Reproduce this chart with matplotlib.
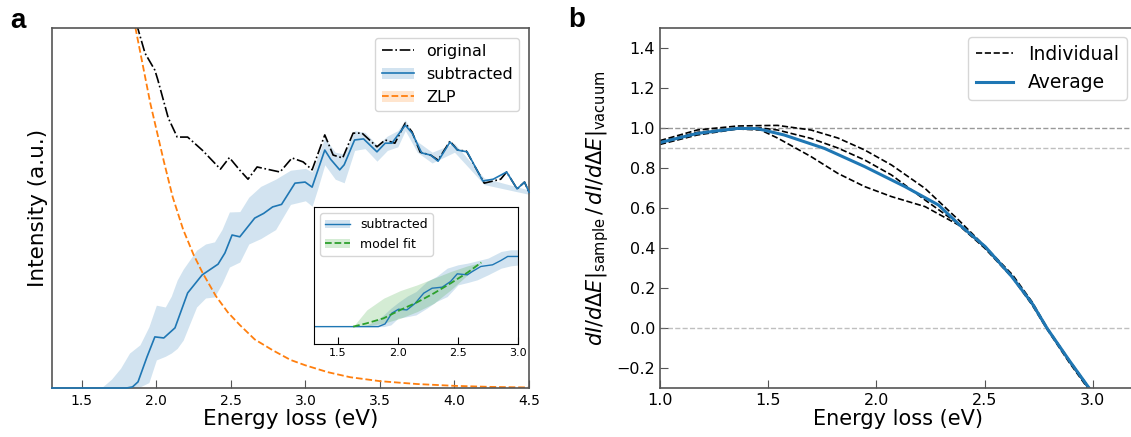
import numpy as np
import matplotlib
matplotlib.use("Agg")
import matplotlib.pyplot as plt
from matplotlib.patches import Patch
from matplotlib.lines import Line2D

# ---- panel a: spectra (arbitrary units, 0..100 = axis height) ----
orig_x = [1.85, 1.875, 1.924, 1.99, 2.01, 2.08, 2.14, 2.21, 2.31, 2.43, 2.49, 2.56,
          2.615, 2.676, 2.74, 2.83, 2.91, 2.985, 3.045, 3.13, 3.186, 3.25, 3.32, 3.38,
          3.48, 3.535, 3.6, 3.67, 3.716, 3.77, 3.84, 3.89, 3.97, 4.02, 4.08, 4.2,
          4.31, 4.35, 4.42, 4.47, 4.5]
orig_y = [106, 100, 93, 88.3, 85.6, 75, 69.7, 69.7, 66, 60.8, 64, 60.5,
          58, 61.4, 60.8, 60, 63.9, 62.8, 60.6, 70.3, 64.7, 63.9, 70.8, 70.8,
          67, 68.9, 68, 73.6, 71.1, 65.5, 64.7, 63.3, 68.6, 66.1, 65.8, 56.9,
          58, 60, 55.3, 57.2, 54.4]

sub_x = [1.30, 1.80, 1.84, 1.877, 1.937, 1.99, 2.05, 2.125, 2.21, 2.307, 2.414, 2.46,
         2.508, 2.56, 2.66, 2.72, 2.78, 2.84, 2.93, 2.998, 3.045, 3.13, 3.17, 3.23,
         3.26, 3.33, 3.39, 3.48, 3.535, 3.58, 3.67, 3.716, 3.78, 3.84, 3.89, 3.97,
         4.02, 4.085, 4.19, 4.26, 4.35, 4.42, 4.47, 4.5]
sub_y = [0, 0, 0.3, 1.7, 8.6, 14.2, 13.9, 16.7, 26.4, 31.4, 34.4, 37.5,
         42.5, 42, 47.2, 48.5, 50.3, 51, 56.9, 57.2, 55.8, 66.1, 63.5, 60.6,
         62, 68.9, 69.2, 65.6, 68, 68, 73, 70.8, 65.3, 64.7, 63, 68.3,
         66.1, 65.6, 57.5, 58, 60, 55.3, 57.2, 54.4]

band_x = [1.30, 1.63, 1.70, 1.76, 1.82, 1.89, 1.95, 2.00, 2.06, 2.10, 2.14, 2.18,
          2.27, 2.33, 2.39, 2.44, 2.49, 2.56, 2.62, 2.70, 2.80, 2.90, 3.00, 3.045,
          3.08, 3.13, 3.20, 3.26, 3.33, 3.40, 3.48, 3.55, 3.62, 3.67, 3.75, 3.85,
          4.0, 4.2, 4.5]
band_hi = [0, 0, 2.5, 5.5, 9.7, 12, 17, 23, 22.5, 25.5, 30, 33,
           38.3, 40, 40.6, 44, 48.9, 49, 53, 56, 58, 60.5, 61, 60,
           64, 69.5, 65.5, 65, 71.5, 71, 67.5, 70, 71.5, 74.5, 68.5, 65.5,
           68, 58.3, 55]
band_lo = [0, 0, 0, 0, 0, 0.3, 1.5, 7.8, 8.8, 9.7, 11, 13.3,
           22.5, 25, 25.3, 29, 33.6, 35, 40, 41.5, 44, 51, 52, 50.5,
           55, 62, 58, 57, 66, 66.5, 63, 66, 67, 71.5, 65.5, 62.5,
           65.5, 56.5, 53.8]

zlp_x = [1.80, 1.86, 1.96, 2.05, 2.11, 2.18, 2.25, 2.31, 2.40, 2.48, 2.56, 2.66,
         2.78, 2.90, 3.00, 3.15, 3.30, 3.50, 3.75, 4.00, 4.25, 4.50]
zlp_y = [116, 100, 79, 63, 53, 44, 37, 32, 25.5, 21, 17.5, 13.5,
         10.5, 7.8, 6.3, 4.4, 3.0, 1.9, 1.1, 0.6, 0.3, 0.15]

# ---- inset ----
ins_x = [1.30, 1.836, 1.892, 1.948, 2.004, 2.074, 2.144, 2.214, 2.284, 2.368, 2.438,
         2.494, 2.578, 2.62, 2.69, 2.788, 2.858, 2.914, 3.013]
ins_y = [0, 0, 0.08, 0.40, 0.52, 0.50, 0.70, 1.00, 1.15, 1.18, 1.35,
         1.58, 1.55, 1.65, 1.80, 1.85, 1.98, 2.10, 2.10]
ins_band_x = [1.30, 1.60, 1.74, 1.82, 1.88, 1.94, 2.00, 2.08, 2.15, 2.24, 2.32, 2.41,
              2.50, 2.58, 2.66, 2.75, 2.86, 2.94, 3.02]
ins_band_hi = [0, 0, 0.05, 0.18, 0.35, 0.55, 0.72, 0.92, 1.05, 1.35, 1.5, 1.75,
               1.85, 1.9, 1.97, 2.05, 2.25, 2.3, 2.3]
ins_band_lo = [0, 0, 0, 0, 0, 0.05, 0.25, 0.3, 0.35, 0.55, 0.75, 0.9,
               1.25, 1.32, 1.4, 1.55, 1.75, 1.82, 1.85]
fit_x = [1.626, 1.74, 1.88, 2.02, 2.16, 2.30, 2.44, 2.58, 2.694]
fit_y = [0, 0.1, 0.25, 0.5, 0.73, 1.0, 1.3, 1.62, 1.92]
fit_hi = [0, 0.5, 0.85, 1.08, 1.25, 1.45, 1.65, 1.82, 1.92]
fit_lo = [0, 0.02, 0.1, 0.25, 0.45, 0.7, 1.1, 1.55, 1.92]

# ---- panel b: ratio curves ----
avg_x = [1.0, 1.172, 1.358, 1.45, 1.574, 1.76, 1.946, 2.132, 2.287, 2.38,
         2.503, 2.626, 2.72, 2.79, 2.89, 2.983, 3.01]
avg_y = [0.927, 0.973, 0.998, 0.997, 0.965, 0.898, 0.807, 0.707, 0.615, 0.52,
         0.407, 0.257, 0.123, -0.003, -0.16, -0.30, -0.345]

ind_x = [1.0, 1.172, 1.358, 1.465, 1.543, 1.698, 1.822, 1.946, 2.07, 2.225, 2.38,
         2.5, 2.63, 2.72, 2.79, 2.89, 2.983, 3.01]
ind1_y = [0.937, 0.99, 1.01, 1.012, 1.013, 0.99, 0.95, 0.89, 0.815, 0.698, 0.54,
          0.41, 0.265, 0.13, 0.0, -0.158, -0.298, -0.34]
ind2_y = [0.93, 0.978, 1.0, 1.0, 0.99, 0.948, 0.9, 0.84, 0.765, 0.64, 0.52,
          0.405, 0.255, 0.12, -0.005, -0.165, -0.305, -0.348]
ind3_y = [0.918, 0.965, 0.995, 0.99, 0.95, 0.857, 0.773, 0.707, 0.657, 0.607, 0.515,
          0.40, 0.25, 0.115, -0.008, -0.17, -0.31, -0.352]

blue = "#1f77b4"
orange = "#ff7f0e"
green = "#2ca02c"
spine_c = "#555555"

fig = plt.figure(figsize=(11.31, 4.37), dpi=100)

# ---------------- panel a ----------------
ax = fig.add_axes([52/1131, 49/437, 477/1131, 360/437])
ax.fill_between(band_x, band_lo, band_hi, color=blue, alpha=0.2, lw=0)
ax.plot(sub_x, sub_y, color=blue, lw=1.2, zorder=3, clip_on=False)
ax.plot(orig_x, orig_y, color="k", ls="-.", lw=1.2)
ax.plot(zlp_x, zlp_y, color=orange, ls="--", lw=1.3)
ax.set_xlim(1.3, 4.5)
ax.set_ylim(0, 100)
ax.set_xticks([1.5, 2.0, 2.5, 3.0, 3.5, 4.0, 4.5])
ax.set_yticks([])
ax.tick_params(axis="x", direction="in", length=6, labelsize=10, pad=4, color=spine_c)
for s in ax.spines.values():
    s.set_color(spine_c)
    s.set_linewidth(1.2)
ax.set_xlabel("Energy loss (eV)", fontsize=15.5, labelpad=1)
ax.set_ylabel("Intensity (a.u.)", fontsize=15.5, labelpad=3)

h_orig = Line2D([], [], color="k", ls="-.", lw=1.2)
h_sub = (Patch(facecolor=blue, alpha=0.2, lw=0), Line2D([], [], color=blue, lw=1.2))
h_zlp = (Patch(facecolor=orange, alpha=0.2, lw=0), Line2D([], [], color=orange, ls="--", lw=1.3))
ax.legend([h_orig, h_sub, h_zlp], ["original", "subtracted", "ZLP"],
          loc="upper right", fontsize=11.5, borderaxespad=0.6)

# inset
ins = fig.add_axes([314/1131, (437-344)/437, 204/1131, 137/437])
ins.fill_between(ins_band_x, ins_band_lo, ins_band_hi, color=blue, alpha=0.2, lw=0)
ins.fill_between(fit_x, fit_lo, fit_hi, color=green, alpha=0.2, lw=0)
ins.plot(ins_x, ins_y, color=blue, lw=1.0)
ins.plot(fit_x, fit_y, color=green, ls="--", lw=1.3)
ins.set_xlim(1.3, 3.0)
ins.set_ylim(-0.52, 3.58)
ins.set_xticks([1.5, 2.0, 2.5, 3.0])
ins.set_yticks([])
ins.tick_params(axis="x", direction="in", length=5, labelsize=8, pad=3)
h_isub = (Patch(facecolor=blue, alpha=0.2, lw=0), Line2D([], [], color=blue, lw=1.0))
h_fit = (Patch(facecolor=green, alpha=0.2, lw=0), Line2D([], [], color=green, ls="--", lw=1.3))
ins.legend([h_isub, h_fit], ["subtracted", "model fit"], loc="upper left", fontsize=9)

# ---------------- panel b ----------------
bx = fig.add_axes([660/1131, 49/437, 476/1131, 360/437])
bx.axhline(1.0, color="gray", ls="--", lw=1, alpha=0.8)
bx.axhline(0.9, color="gray", ls="--", lw=1, alpha=0.5)
bx.axhline(0.0, color="gray", ls="--", lw=1, alpha=0.5)
for iy in (ind1_y, ind2_y, ind3_y):
    bx.plot(ind_x, iy, color="k", ls="--", lw=1.2)
bx.plot(avg_x, avg_y, color=blue, lw=2.2)
bx.set_xlim(1.0, 3.2)
bx.set_ylim(-0.3, 1.5)
bx.set_xticks([1.0, 1.5, 2.0, 2.5, 3.0])
bx.set_yticks([-0.2, 0.0, 0.2, 0.4, 0.6, 0.8, 1.0, 1.2, 1.4])
bx.tick_params(direction="in", length=6, labelsize=11.5, color=spine_c)
for s in bx.spines.values():
    s.set_color(spine_c)
    s.set_linewidth(1.2)
bx.set_xlabel("Energy loss (eV)", fontsize=15, labelpad=1)
bx.set_ylabel(r"$dI/d\Delta E|_{\mathrm{sample}}\,/\,dI/d\Delta E|_{\mathrm{vacuum}}$",
              fontsize=15)
h_ind = Line2D([], [], color="k", ls="--", lw=1.2)
h_avg = Line2D([], [], color=blue, lw=2.2)
bx.legend([h_ind, h_avg], ["Individual", "Average"], loc="upper right", fontsize=13.5)

fig.text(10/1131, 1 - 28/437, "a", fontsize=20, fontweight="bold",
         family="Liberation Sans", va="baseline")
fig.text(568/1131, 1 - 27/437, "b", fontsize=20, fontweight="bold",
         family="Liberation Sans", va="baseline")

fig.savefig("out.png", dpi=100)
